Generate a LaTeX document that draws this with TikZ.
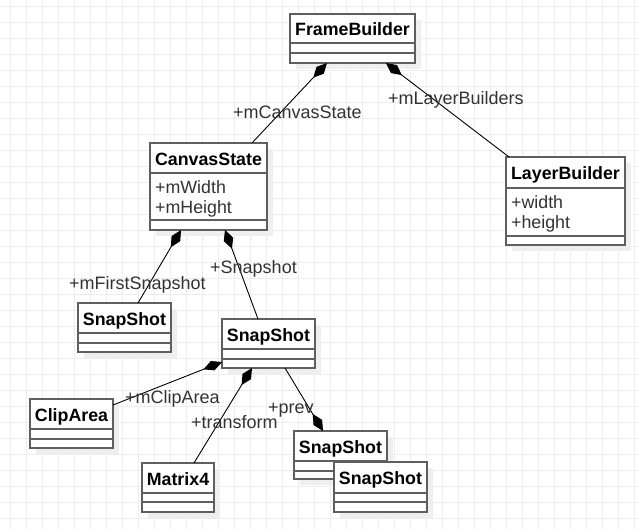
\documentclass[tikz,border=0pt]{standalone}
\usepackage{fontspec}
\setmainfont{Liberation Sans}
\usetikzlibrary{arrows.meta,calc}
\definecolor{gridc}{HTML}{EDEDED}
\definecolor{borderc}{HTML}{5F5F5F}
\definecolor{shadc}{HTML}{EFEFEF}
\definecolor{txtc}{HTML}{333333}
\tikzset{
 clsbox/.style={draw=borderc, line width=1.3pt, fill=white, inner sep=0pt, outer sep=0pt, rectangle},
 clsrule/.style={draw=borderc, line width=1.3pt},
 clsshadow/.style={fill=shadc},
 clstitle/.style={font=\fontsize{17.8}{20}\selectfont\bfseries, text=black, inner sep=0pt, anchor=base},
 clsattr/.style={font=\fontsize{17.8}{20}\selectfont, text=txtc, inner sep=0pt, anchor=base west},
 rolelbl/.style={font=\fontsize{18}{20}\selectfont, text=txtc, inner sep=0pt, anchor=base west},
 comp/.style={draw=black, line width=0.9pt, -{Diamond[length=20pt,width=10pt]}},
 gridline/.style={draw=gridc, line width=0.8pt},
}
\newcommand\umlclass[9]{%
  \pgfmathsetmacro\clsh{#5+#6+#7}%
  \pgfmathsetmacro\clsa{#5+#6}%
  \fill[clsshadow] (#2+6,#3+6) rectangle (#2+#4+6,#3+\clsh+6);
  \node[clsbox, minimum width=#4pt, minimum height=\clsh pt, anchor=north west] (#1) at (#2,#3) {};
  \draw[clsrule] ([yshift=-#5pt]#1.north west) -- ([yshift=-#5pt]#1.north east);
  \draw[clsrule] ([yshift=-\clsa pt]#1.north west) -- ([yshift=-\clsa pt]#1.north east);
  \node[clstitle] (#1-t) at ($(#1.north)+(0,#5/2+7.4)$) {#8};
  \if\relax\detokenize{#9}\relax\else
    \foreach \a [count=\i] in {#9} {\node[clsattr] (#1-a\i) at ($(#1.north west)+(5,#5+0.5+20*\i)$) {\a};}
  \fi
}
\begin{document}
\begin{tikzpicture}[x=1pt,y=-1pt]
\useasboundingbox (0,0) rectangle (638,530);
\fill[white] (0,0) rectangle (638,530);
\foreach \k in {0,...,39} {\draw[gridline] (10.3+16*\k,0) -- (10.3+16*\k,530);}
\foreach \k in {0,...,32} {\draw[gridline] (0,6.3+16*\k) -- (638,6.3+16*\k);}

\umlclass{fb}{290}{14}{125}{29}{10}{10}{FrameBuilder}{}
\umlclass{cs}{150}{143}{117}{30}{47}{10}{CanvasState}{+mWidth,+mHeight}
\umlclass{lb}{506}{157}{119}{31}{48}{9}{LayerBuilder}{+width,+height}
\umlclass{ssa}{78}{303}{93}{30}{10}{9}{SnapShot}{}
\umlclass{ssb}{222}{319}{93}{30}{10}{9}{SnapShot}{}
\umlclass{clip}{30}{399}{83}{30}{10}{9}{ClipArea}{}
\umlclass{mat}{142}{463}{72}{30}{9}{10}{Matrix4}{}
\umlclass{ssc}{294}{431}{93}{30}{10}{8}{SnapShot}{}
\umlclass{ssd}{334}{462}{93}{31}{9}{10}{SnapShot}{}

\draw[comp] ([xshift=102pt]cs.north west) -- ([xshift=37pt]fb.south west);
\draw[comp] ([xshift=3pt]lb.north west) -- ([xshift=96pt]fb.south west);
\draw[comp] ([xshift=60pt]ssa.north west) -- ([xshift=31pt]cs.south west);
\draw[comp] ([xshift=36pt]ssb.north west) -- ([xshift=75pt]cs.south west);
\draw[comp] ([yshift=-6pt]clip.north east) -- ([yshift=6pt]ssb.south west);
\draw[comp] ([xshift=52pt]mat.north west) -- ([xshift=30pt]ssb.south west);
\draw[comp] ([xshift=63pt]ssb.south west) -- ([xshift=29pt]ssc.north west);

\node[rolelbl] (l1) at (233,118.3) {+mCanvasState};
\node[rolelbl] (l2) at (388,104.3) {+mLayerBuilders};
\node[rolelbl] (l3) at (69,289) {+mFirstSnapshot};
\node[rolelbl] (l4) at (210,273.3) {+Snapshot};
\node[rolelbl] (l5) at (125,403.3) {+mClipArea};
\node[rolelbl] (l6) at (191,428.3) {+transform};
\node[rolelbl] (l7) at (268,413.3) {+prev};
\end{tikzpicture}
\end{document}
